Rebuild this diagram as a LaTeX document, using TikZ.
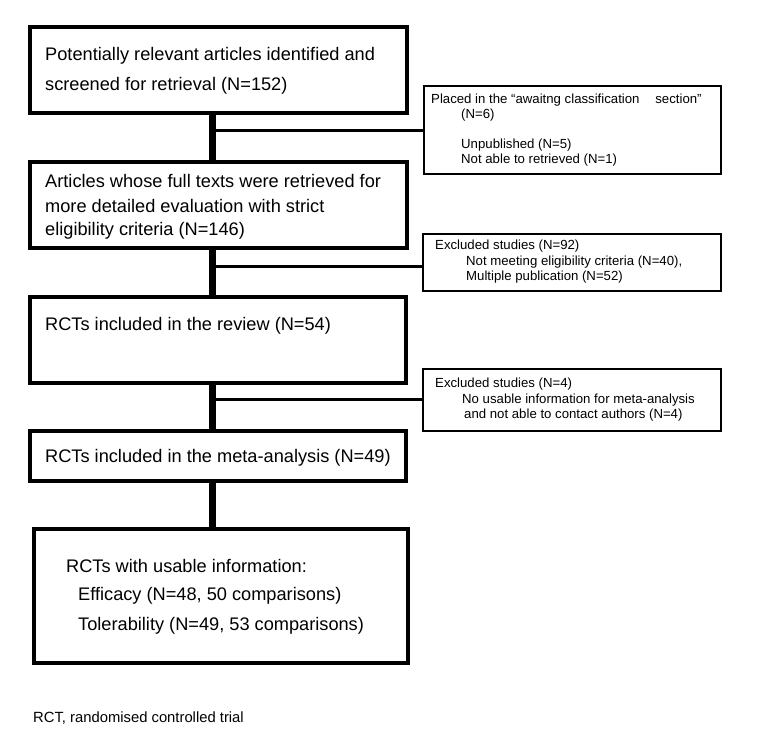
\documentclass[tikz,border=0pt]{standalone}
\usepackage{fontspec}
\setmainfont{Liberation Sans}
\begin{document}
\begin{tikzpicture}[x=1pt,y=-1pt,
  mainbox/.style={draw=black,line width=4pt,fill=white,inner sep=0pt},
  sidebox/.style={draw=black,line width=2.5pt,fill=white,inner sep=0pt},
  maintxt/.style={anchor=west,inner sep=0pt,font=\fontsize{18.2}{20}\selectfont},
  sidetxt/.style={anchor=west,inner sep=0pt,font=\fontsize{13.2}{15}\selectfont},
  spine/.style={line width=7pt},
  branch/.style={line width=3pt}]
\useasboundingbox[fill=white] (0,0) rectangle (763,742);
% main boxes
\node[mainbox,minimum width=377pt,minimum height=86pt] (b1) at (218.5,70) {};
\node[mainbox,minimum width=377pt,minimum height=86pt] (b2) at (218.5,205) {};
\node[mainbox,minimum width=376pt,minimum height=86pt] (b3) at (218,340) {};
\node[mainbox,minimum width=376pt,minimum height=50pt] (b4) at (218,456) {};
\node[mainbox,minimum width=374pt,minimum height=134pt] (b5) at (221,596) {};
% side boxes
\node[sidebox,minimum width=297pt,minimum height=88pt] (s1) at (572.5,130) {};
\node[sidebox,minimum width=298pt,minimum height=57pt] (s2) at (572,262.5) {};
\node[sidebox,minimum width=298pt,minimum height=62pt] (s3) at (572,400) {};
% spine coordinates
\coordinate (j1) at (212,130);
\coordinate (j2) at (212,266);
\coordinate (j3) at (212,399);
% connectors
\draw[spine] (b1.south -| j1) -- (b2.north -| j1);
\draw[spine] (b2.south -| j1) -- (b3.north -| j1);
\draw[spine] (b3.south -| j1) -- (b4.north -| j1);
\draw[spine] (b4.south -| j1) -- (b5.north -| j1);
\draw[branch] (j1) -- (j1 -| s1.west);
\draw[branch] (j2) -- (j2 -| s2.west);
\draw[branch] (j3) -- (j3 -| s3.west);
% main texts
\node[maintxt] (t1a) at (45,56) {Potentially relevant articles identified and};
\node[maintxt] (t1b) at (45,86) {screened for retrieval (N=152)};
\node[maintxt] (t2a) at (45,181) {Articles whose full texts were retrieved for};
\node[maintxt] (t2b) at (45,206) {more detailed evaluation with strict};
\node[maintxt] (t2c) at (45,231) {eligibility criteria (N=146)};
\node[maintxt] (t3) at (45,326) {RCTs included in the review (N=54)};
\node[maintxt] (t4) at (45,458) {RCTs included in the meta-analysis (N=49)};
\node[maintxt] (t5a) at (66,566) {RCTs with usable information:};
\node[maintxt] (t5b) at (78,596) {Efficacy (N=48, 50 comparisons)};
\node[maintxt] (t5c) at (78,626) {Tolerability (N=49, 53 comparisons)};
% side texts
\node[sidetxt] (u1a) at (431,100) {Placed in the “awaitng classification\hspace{1.2em}section”};
\node[sidetxt] (u1b) at (461,115) {(N=6)};
\node[sidetxt] (u1c) at (461,145) {Unpublished (N=5)};
\node[sidetxt] (u1d) at (461,160) {Not able to retrieved (N=1)};
\node[sidetxt] (u2a) at (435,246) {Excluded studies (N=92)};
\node[sidetxt] (u2b) at (466,262) {Not meeting eligibility criteria (N=40),};
\node[sidetxt] (u2c) at (466,277) {Multiple publication (N=52)};
\node[sidetxt] (u3a) at (435,384) {Excluded studies (N=4)};
\node[sidetxt] (u3b) at (462,400) {No usable information for meta-analysis};
\node[sidetxt] (u3c) at (464,415) {and not able to contact authors (N=4)};
% footnote
\node[anchor=west,inner sep=0pt,font=\fontsize{14.8}{16}\selectfont] (fn) at (33,718) {RCT, randomised controlled trial};
\end{tikzpicture}
\end{document}
